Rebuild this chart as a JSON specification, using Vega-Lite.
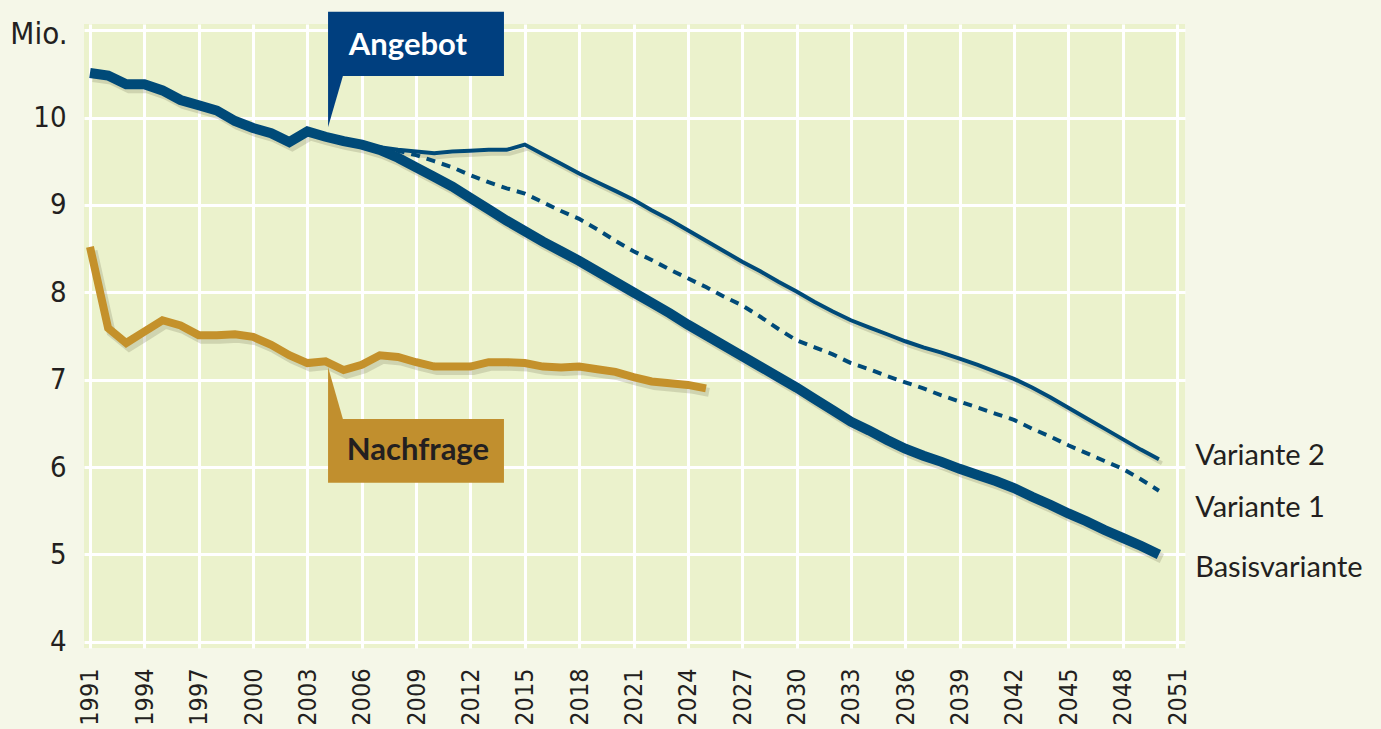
{
  "$schema": "https://vega.github.io/schema/vega-lite/v6.json",
  "width": 1101,
  "height": 624,
  "autosize": "none",
  "padding": {"left": 84, "top": 24, "right": 196, "bottom": 81},
  "background": "#f5f7e8",
  "config": {
    "view": {"fill": "#ebf2cc", "stroke": null},
    "axis": {"gridColor": "#ffffff", "gridWidth": 3, "gridOpacity": 1, "domain": false, "ticks": false, "labelColor": "#231f20", "labelFont": "DejaVu Sans Condensed, sans-serif"}
  },
  "datasets": {
    "lines": [
      {"series": "Basis", "year": 1991, "value": 10.51}, {"series": "Basis", "year": 1992, "value": 10.48}, {"series": "Basis", "year": 1993, "value": 10.38}, {"series": "Basis", "year": 1994, "value": 10.38}, {"series": "Basis", "year": 1995, "value": 10.31}, {"series": "Basis", "year": 1996, "value": 10.2}, {"series": "Basis", "year": 1997, "value": 10.14}, {"series": "Basis", "year": 1998, "value": 10.08}, {"series": "Basis", "year": 1999, "value": 9.96}, {"series": "Basis", "year": 2000, "value": 9.88}, {"series": "Basis", "year": 2001, "value": 9.82}, {"series": "Basis", "year": 2002, "value": 9.72}, {"series": "Basis", "year": 2003, "value": 9.84}, {"series": "Basis", "year": 2004, "value": 9.78}, {"series": "Basis", "year": 2005, "value": 9.73}, {"series": "Basis", "year": 2006, "value": 9.69}, {"series": "Basis", "year": 2007, "value": 9.63}, {"series": "Basis", "year": 2008, "value": 9.54}, {"series": "Basis", "year": 2009, "value": 9.43}, {"series": "Basis", "year": 2010, "value": 9.32}, {"series": "Basis", "year": 2011, "value": 9.21}, {"series": "Basis", "year": 2012, "value": 9.08}, {"series": "Basis", "year": 2013, "value": 8.95}, {"series": "Basis", "year": 2014, "value": 8.82}, {"series": "Basis", "year": 2015, "value": 8.7}, {"series": "Basis", "year": 2016, "value": 8.58}, {"series": "Basis", "year": 2017, "value": 8.47}, {"series": "Basis", "year": 2018, "value": 8.36}, {"series": "Basis", "year": 2019, "value": 8.24}, {"series": "Basis", "year": 2020, "value": 8.12}, {"series": "Basis", "year": 2021, "value": 8.0}, {"series": "Basis", "year": 2022, "value": 7.88}, {"series": "Basis", "year": 2023, "value": 7.76}, {"series": "Basis", "year": 2024, "value": 7.63}, {"series": "Basis", "year": 2025, "value": 7.51}, {"series": "Basis", "year": 2026, "value": 7.39}, {"series": "Basis", "year": 2027, "value": 7.27}, {"series": "Basis", "year": 2028, "value": 7.15}, {"series": "Basis", "year": 2029, "value": 7.03}, {"series": "Basis", "year": 2030, "value": 6.91}, {"series": "Basis", "year": 2031, "value": 6.78}, {"series": "Basis", "year": 2032, "value": 6.65}, {"series": "Basis", "year": 2033, "value": 6.52}, {"series": "Basis", "year": 2034, "value": 6.42}, {"series": "Basis", "year": 2035, "value": 6.31}, {"series": "Basis", "year": 2036, "value": 6.21}, {"series": "Basis", "year": 2037, "value": 6.13}, {"series": "Basis", "year": 2038, "value": 6.06}, {"series": "Basis", "year": 2039, "value": 5.98}, {"series": "Basis", "year": 2040, "value": 5.91}, {"series": "Basis", "year": 2041, "value": 5.84}, {"series": "Basis", "year": 2042, "value": 5.76}, {"series": "Basis", "year": 2043, "value": 5.66}, {"series": "Basis", "year": 2044, "value": 5.57}, {"series": "Basis", "year": 2045, "value": 5.47}, {"series": "Basis", "year": 2046, "value": 5.38}, {"series": "Basis", "year": 2047, "value": 5.28}, {"series": "Basis", "year": 2048, "value": 5.19}, {"series": "Basis", "year": 2049, "value": 5.1}, {"series": "Basis", "year": 2050, "value": 5.0},
      {"series": "V2", "year": 2006, "value": 9.69}, {"series": "V2", "year": 2007, "value": 9.66}, {"series": "V2", "year": 2008, "value": 9.63}, {"series": "V2", "year": 2009, "value": 9.61}, {"series": "V2", "year": 2010, "value": 9.59}, {"series": "V2", "year": 2011, "value": 9.61}, {"series": "V2", "year": 2012, "value": 9.62}, {"series": "V2", "year": 2013, "value": 9.63}, {"series": "V2", "year": 2014, "value": 9.63}, {"series": "V2", "year": 2015, "value": 9.69}, {"series": "V2", "year": 2016, "value": 9.58}, {"series": "V2", "year": 2017, "value": 9.47}, {"series": "V2", "year": 2018, "value": 9.36}, {"series": "V2", "year": 2019, "value": 9.26}, {"series": "V2", "year": 2020, "value": 9.16}, {"series": "V2", "year": 2021, "value": 9.06}, {"series": "V2", "year": 2022, "value": 8.94}, {"series": "V2", "year": 2023, "value": 8.83}, {"series": "V2", "year": 2024, "value": 8.71}, {"series": "V2", "year": 2025, "value": 8.59}, {"series": "V2", "year": 2026, "value": 8.47}, {"series": "V2", "year": 2027, "value": 8.35}, {"series": "V2", "year": 2028, "value": 8.24}, {"series": "V2", "year": 2029, "value": 8.12}, {"series": "V2", "year": 2030, "value": 8.01}, {"series": "V2", "year": 2031, "value": 7.89}, {"series": "V2", "year": 2032, "value": 7.78}, {"series": "V2", "year": 2033, "value": 7.68}, {"series": "V2", "year": 2034, "value": 7.6}, {"series": "V2", "year": 2035, "value": 7.52}, {"series": "V2", "year": 2036, "value": 7.44}, {"series": "V2", "year": 2037, "value": 7.37}, {"series": "V2", "year": 2038, "value": 7.31}, {"series": "V2", "year": 2039, "value": 7.24}, {"series": "V2", "year": 2040, "value": 7.17}, {"series": "V2", "year": 2041, "value": 7.09}, {"series": "V2", "year": 2042, "value": 7.01}, {"series": "V2", "year": 2043, "value": 6.91}, {"series": "V2", "year": 2044, "value": 6.8}, {"series": "V2", "year": 2045, "value": 6.68}, {"series": "V2", "year": 2046, "value": 6.56}, {"series": "V2", "year": 2047, "value": 6.44}, {"series": "V2", "year": 2048, "value": 6.32}, {"series": "V2", "year": 2049, "value": 6.2}, {"series": "V2", "year": 2050, "value": 6.09},
      {"series": "V1", "year": 2007, "value": 9.65}, {"series": "V1", "year": 2008, "value": 9.62}, {"series": "V1", "year": 2009, "value": 9.57}, {"series": "V1", "year": 2010, "value": 9.5}, {"series": "V1", "year": 2011, "value": 9.43}, {"series": "V1", "year": 2012, "value": 9.34}, {"series": "V1", "year": 2013, "value": 9.26}, {"series": "V1", "year": 2014, "value": 9.19}, {"series": "V1", "year": 2015, "value": 9.13}, {"series": "V1", "year": 2016, "value": 9.03}, {"series": "V1", "year": 2017, "value": 8.93}, {"series": "V1", "year": 2018, "value": 8.84}, {"series": "V1", "year": 2019, "value": 8.72}, {"series": "V1", "year": 2020, "value": 8.59}, {"series": "V1", "year": 2021, "value": 8.47}, {"series": "V1", "year": 2022, "value": 8.37}, {"series": "V1", "year": 2023, "value": 8.26}, {"series": "V1", "year": 2024, "value": 8.16}, {"series": "V1", "year": 2025, "value": 8.06}, {"series": "V1", "year": 2026, "value": 7.95}, {"series": "V1", "year": 2027, "value": 7.85}, {"series": "V1", "year": 2028, "value": 7.72}, {"series": "V1", "year": 2029, "value": 7.58}, {"series": "V1", "year": 2030, "value": 7.45}, {"series": "V1", "year": 2031, "value": 7.37}, {"series": "V1", "year": 2032, "value": 7.29}, {"series": "V1", "year": 2033, "value": 7.19}, {"series": "V1", "year": 2034, "value": 7.12}, {"series": "V1", "year": 2035, "value": 7.04}, {"series": "V1", "year": 2036, "value": 6.97}, {"series": "V1", "year": 2037, "value": 6.9}, {"series": "V1", "year": 2038, "value": 6.82}, {"series": "V1", "year": 2039, "value": 6.75}, {"series": "V1", "year": 2040, "value": 6.68}, {"series": "V1", "year": 2041, "value": 6.61}, {"series": "V1", "year": 2042, "value": 6.54}, {"series": "V1", "year": 2043, "value": 6.44}, {"series": "V1", "year": 2044, "value": 6.35}, {"series": "V1", "year": 2045, "value": 6.25}, {"series": "V1", "year": 2046, "value": 6.16}, {"series": "V1", "year": 2047, "value": 6.07}, {"series": "V1", "year": 2048, "value": 5.98}, {"series": "V1", "year": 2049, "value": 5.86}, {"series": "V1", "year": 2050, "value": 5.73},
      {"series": "Nachfrage", "year": 1991, "value": 8.52}, {"series": "Nachfrage", "year": 1992, "value": 7.59}, {"series": "Nachfrage", "year": 1993, "value": 7.42}, {"series": "Nachfrage", "year": 1994, "value": 7.55}, {"series": "Nachfrage", "year": 1995, "value": 7.68}, {"series": "Nachfrage", "year": 1996, "value": 7.62}, {"series": "Nachfrage", "year": 1997, "value": 7.51}, {"series": "Nachfrage", "year": 1998, "value": 7.51}, {"series": "Nachfrage", "year": 1999, "value": 7.52}, {"series": "Nachfrage", "year": 2000, "value": 7.49}, {"series": "Nachfrage", "year": 2001, "value": 7.4}, {"series": "Nachfrage", "year": 2002, "value": 7.28}, {"series": "Nachfrage", "year": 2003, "value": 7.19}, {"series": "Nachfrage", "year": 2004, "value": 7.21}, {"series": "Nachfrage", "year": 2005, "value": 7.11}, {"series": "Nachfrage", "year": 2006, "value": 7.17}, {"series": "Nachfrage", "year": 2007, "value": 7.28}, {"series": "Nachfrage", "year": 2008, "value": 7.26}, {"series": "Nachfrage", "year": 2009, "value": 7.2}, {"series": "Nachfrage", "year": 2010, "value": 7.15}, {"series": "Nachfrage", "year": 2011, "value": 7.15}, {"series": "Nachfrage", "year": 2012, "value": 7.15}, {"series": "Nachfrage", "year": 2013, "value": 7.2}, {"series": "Nachfrage", "year": 2014, "value": 7.2}, {"series": "Nachfrage", "year": 2015, "value": 7.19}, {"series": "Nachfrage", "year": 2016, "value": 7.15}, {"series": "Nachfrage", "year": 2017, "value": 7.14}, {"series": "Nachfrage", "year": 2018, "value": 7.15}, {"series": "Nachfrage", "year": 2019, "value": 7.12}, {"series": "Nachfrage", "year": 2020, "value": 7.09}, {"series": "Nachfrage", "year": 2021, "value": 7.03}, {"series": "Nachfrage", "year": 2022, "value": 6.98}, {"series": "Nachfrage", "year": 2023, "value": 6.96}, {"series": "Nachfrage", "year": 2024, "value": 6.94}, {"series": "Nachfrage", "year": 2025, "value": 6.9}
    ],
    "boxes": [
      {"name": "Angebot", "x1": 2004.14, "x2": 2013.85, "y1": 11.21, "y2": 10.475, "tx": 2008.55, "ty": 10.715},
      {"name": "Nachfrage", "x1": 2004.14, "x2": 2013.85, "y1": 6.55, "y2": 5.82, "tx": 2009.1, "ty": 6.08}
    ],
    "pointers": [
      {"name": "Angebot", "x": 2004.14, "y": 9.89, "y2": 10.475},
      {"name": "Angebot", "x": 2004.96, "y": 10.475, "y2": 10.475},
      {"name": "Nachfrage", "x": 2004.14, "y": 7.145, "y2": 6.55},
      {"name": "Nachfrage", "x": 2004.96, "y": 6.55, "y2": 6.55}
    ],
    "labels": [
      {"text": "Variante 2", "year": 2052, "value": 6.024},
      {"text": "Variante 1", "year": 2052, "value": 5.43},
      {"text": "Basisvariante", "year": 2052, "value": 4.74}
    ]
  },
  "encoding": {
    "x": {"field": "year", "type": "quantitative", "scale": {"domain": [1990.67, 2051.44], "nice": false, "zero": false},
      "axis": {"values": [1991, 1994, 1997, 2000, 2003, 2006, 2009, 2012, 2015, 2018, 2021, 2024, 2027, 2030, 2033, 2036, 2039, 2042, 2045, 2048, 2051], "format": "d", "labelAngle": 270, "labelFontSize": 25, "labelPadding": 20, "title": null}},
    "y": {"field": "value", "type": "quantitative", "scale": {"domain": [3.93, 11.07], "nice": false, "zero": false},
      "axis": {"values": [4, 5, 6, 7, 8, 9, 10, 11], "labelExpr": "datum.value == 11 ? '' : datum.label", "labelFont": "Liberation Sans Narrow, DejaVu Sans Condensed, sans-serif", "labelFontSize": 29, "labelPadding": 18, "title": "Mio.", "titleAngle": 0, "titleAlign": "right", "titleBaseline": "alphabetic", "titleX": -17, "titleY": 19, "titleFontSize": 31, "titleFontWeight": "normal", "titleColor": "#231f20", "titleFont": "Liberation Sans Narrow, DejaVu Sans Condensed, sans-serif"}}
  },
  "layer": [
    {"data": {"name": "lines"}, "transform": [{"filter": "datum.series == 'Nachfrage'"}], "mark": {"type": "line", "color": "#7d7d5a", "opacity": 0.25, "strokeWidth": 9, "xOffset": 3, "yOffset": 4}},
    {"data": {"name": "lines"}, "transform": [{"filter": "datum.series == 'Basis'"}], "mark": {"type": "line", "color": "#7d7d5a", "opacity": 0.25, "strokeWidth": 10, "xOffset": 3, "yOffset": 4}},
    {"data": {"name": "lines"}, "transform": [{"filter": "datum.series == 'V2'"}], "mark": {"type": "line", "color": "#7d7d5a", "opacity": 0.25, "strokeWidth": 4, "xOffset": 3, "yOffset": 4}},
    {"data": {"name": "lines"}, "transform": [{"filter": "datum.series == 'Nachfrage'"}], "mark": {"type": "line", "color": "#c4912b", "strokeWidth": 8, "strokeJoin": "miter"}},
    {"data": {"name": "lines"}, "transform": [{"filter": "datum.series == 'V1'"}], "mark": {"type": "line", "color": "#004a78", "strokeWidth": 4, "strokeDash": [9, 7]}},
    {"data": {"name": "lines"}, "transform": [{"filter": "datum.series == 'V2'"}], "mark": {"type": "line", "color": "#004a78", "strokeWidth": 4}},
    {"data": {"name": "lines"}, "transform": [{"filter": "datum.series == 'Basis'"}], "mark": {"type": "line", "color": "#004a78", "strokeWidth": 10, "strokeJoin": "miter"}},
    {"data": {"name": "pointers"}, "mark": {"type": "area", "stroke": null},
      "encoding": {"x": {"field": "x", "type": "quantitative"}, "y": {"field": "y", "type": "quantitative", "stack": null}, "y2": {"field": "y2"}, "detail": {"field": "name"},
        "color": {"field": "name", "type": "nominal", "scale": {"domain": ["Angebot", "Nachfrage"], "range": ["#003f7f", "#c18f2e"]}, "legend": null}}},
    {"data": {"name": "boxes"}, "mark": {"type": "rect"},
      "encoding": {"x": {"field": "x1", "type": "quantitative"}, "x2": {"field": "x2"}, "y": {"field": "y1", "type": "quantitative"}, "y2": {"field": "y2"},
        "color": {"field": "name", "type": "nominal", "scale": {"domain": ["Angebot", "Nachfrage"], "range": ["#003f7f", "#c18f2e"]}, "legend": null}}},
    {"data": {"name": "boxes"}, "mark": {"type": "text", "font": "Lato", "fontWeight": "bold", "fontSize": 31, "align": "center", "baseline": "alphabetic"},
      "encoding": {"x": {"field": "tx", "type": "quantitative"}, "y": {"field": "ty", "type": "quantitative"}, "text": {"field": "name"},
        "color": {"field": "name", "type": "nominal", "scale": {"domain": ["Angebot", "Nachfrage"], "range": ["#ffffff", "#231f20"]}, "legend": null}}},
    {"data": {"name": "labels"}, "mark": {"type": "text", "font": "Lato", "fontSize": 29, "align": "left", "baseline": "alphabetic", "color": "#231f20"},
      "encoding": {"text": {"field": "text"}}}
  ],
  "resolve": {"scale": {"color": "independent"}}
}
